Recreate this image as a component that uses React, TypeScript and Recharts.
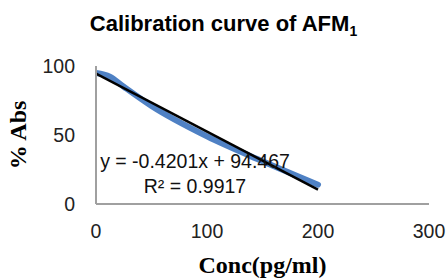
import React from 'react';
import { LineChart, Line, XAxis, YAxis, Label } from 'recharts';

const concentrations = [0, 12.5, 25, 50, 100, 150, 200];
const absPercent = [95, 92.3, 85, 71, 49, 31, 14];
const trendX = [0, 200];
const trendY = [94.467, 10.447];
const xTicks = [0, 100, 200, 300];
const yTicks = [0, 50, 100];

const chartTitle = 'Calibration curve of AFM';
const titleSub = '1';
const xTitle = 'Conc(pg/ml)';
const yTitle = '% Abs';
const equationText = 'y = -0.4201x + 94.467';
const r2Text = 'R² = 0.9917';

const curveData = concentrations.map((x, i) => ({ x, y: absPercent[i] }));
const trendData = trendX.map((x, i) => ({ x, y: trendY[i] }));

const sans = '"Liberation Sans", Arial, sans-serif';
const serif = '"Liberation Serif", "Times New Roman", serif';

const YTitle = (props: any) => {
  const vb = props.viewBox || {};
  const cx = (vb.x || 0) + 18;
  const cy = (vb.y || 0) + (vb.height || 0) / 2;
  return (
    <text
      x={cx}
      y={cy}
      transform={`rotate(-90 ${cx} ${cy})`}
      textAnchor="middle"
      dominantBaseline="central"
      fontFamily={serif}
      fontWeight="bold"
      fontSize={24}
      fill="#000"
    >
      {yTitle}
    </text>
  );
};

export default function App() {
  return (
    <div style={{ position: 'absolute', left: 0, top: 0, width: 447, height: 280, background: '#fff' }}>
      <LineChart width={447} height={280} margin={{ top: 66, right: 18, left: 0, bottom: 0 }}>
        <XAxis
          type="number"
          dataKey="x"
          domain={[0, 300]}
          ticks={xTicks}
          allowDataOverflow
          height={76}
          axisLine={{ stroke: '#a0a0a0', strokeWidth: 2 }}
          tickLine={false}
          tickSize={0}
          tickMargin={20}
          tick={{ fontFamily: sans, fontSize: 19.5, fill: '#222' }}
        >
          <Label
            value={xTitle}
            position="insideBottom"
            offset={7}
            style={{ fontFamily: serif, fontWeight: 'bold', fontSize: 24, fill: '#000' }}
          />
        </XAxis>
        <YAxis
          type="number"
          dataKey="y"
          domain={[0, 100]}
          ticks={yTicks}
          allowDataOverflow
          width={96}
          axisLine={{ stroke: '#a0a0a0', strokeWidth: 2 }}
          tickLine={false}
          tickSize={0}
          tickMargin={21}
          tick={{ fontFamily: sans, fontSize: 19.5, fill: '#222' }}
        >
          <Label content={YTitle} />
        </YAxis>
        <Line
          data={curveData}
          dataKey="y"
          type="monotone"
          stroke="#4f81c4"
          strokeWidth={6}
          strokeLinecap="round"
          dot={false}
          activeDot={false}
          isAnimationActive={false}
        />
        <Line
          data={trendData}
          dataKey="y"
          type="linear"
          stroke="#000"
          strokeWidth={2.5}
          dot={false}
          activeDot={false}
          isAnimationActive={false}
        />
      </LineChart>
      <div
        style={{
          position: 'absolute', left: 0, top: 13, width: 447, textAlign: 'center',
          fontFamily: sans, fontWeight: 'bold', fontSize: 22, lineHeight: '22px', color: '#000',
        }}
      >
        {chartTitle}
        <sub style={{ fontSize: 14, verticalAlign: '-5px', lineHeight: 0 }}>{titleSub}</sub>
      </div>
      <div
        style={{
          position: 'absolute', left: 95, top: 151.5, width: 200, textAlign: 'center',
          fontFamily: sans, fontSize: 19.5, lineHeight: '19.5px', color: '#111', whiteSpace: 'pre',
        }}
      >
        {equationText}
      </div>
      <div
        style={{
          position: 'absolute', left: 95, top: 176.5, width: 200, textAlign: 'center',
          fontFamily: sans, fontSize: 19.5, lineHeight: '19.5px', color: '#111', whiteSpace: 'pre',
        }}
      >
        {r2Text}
      </div>
    </div>
  );
}
